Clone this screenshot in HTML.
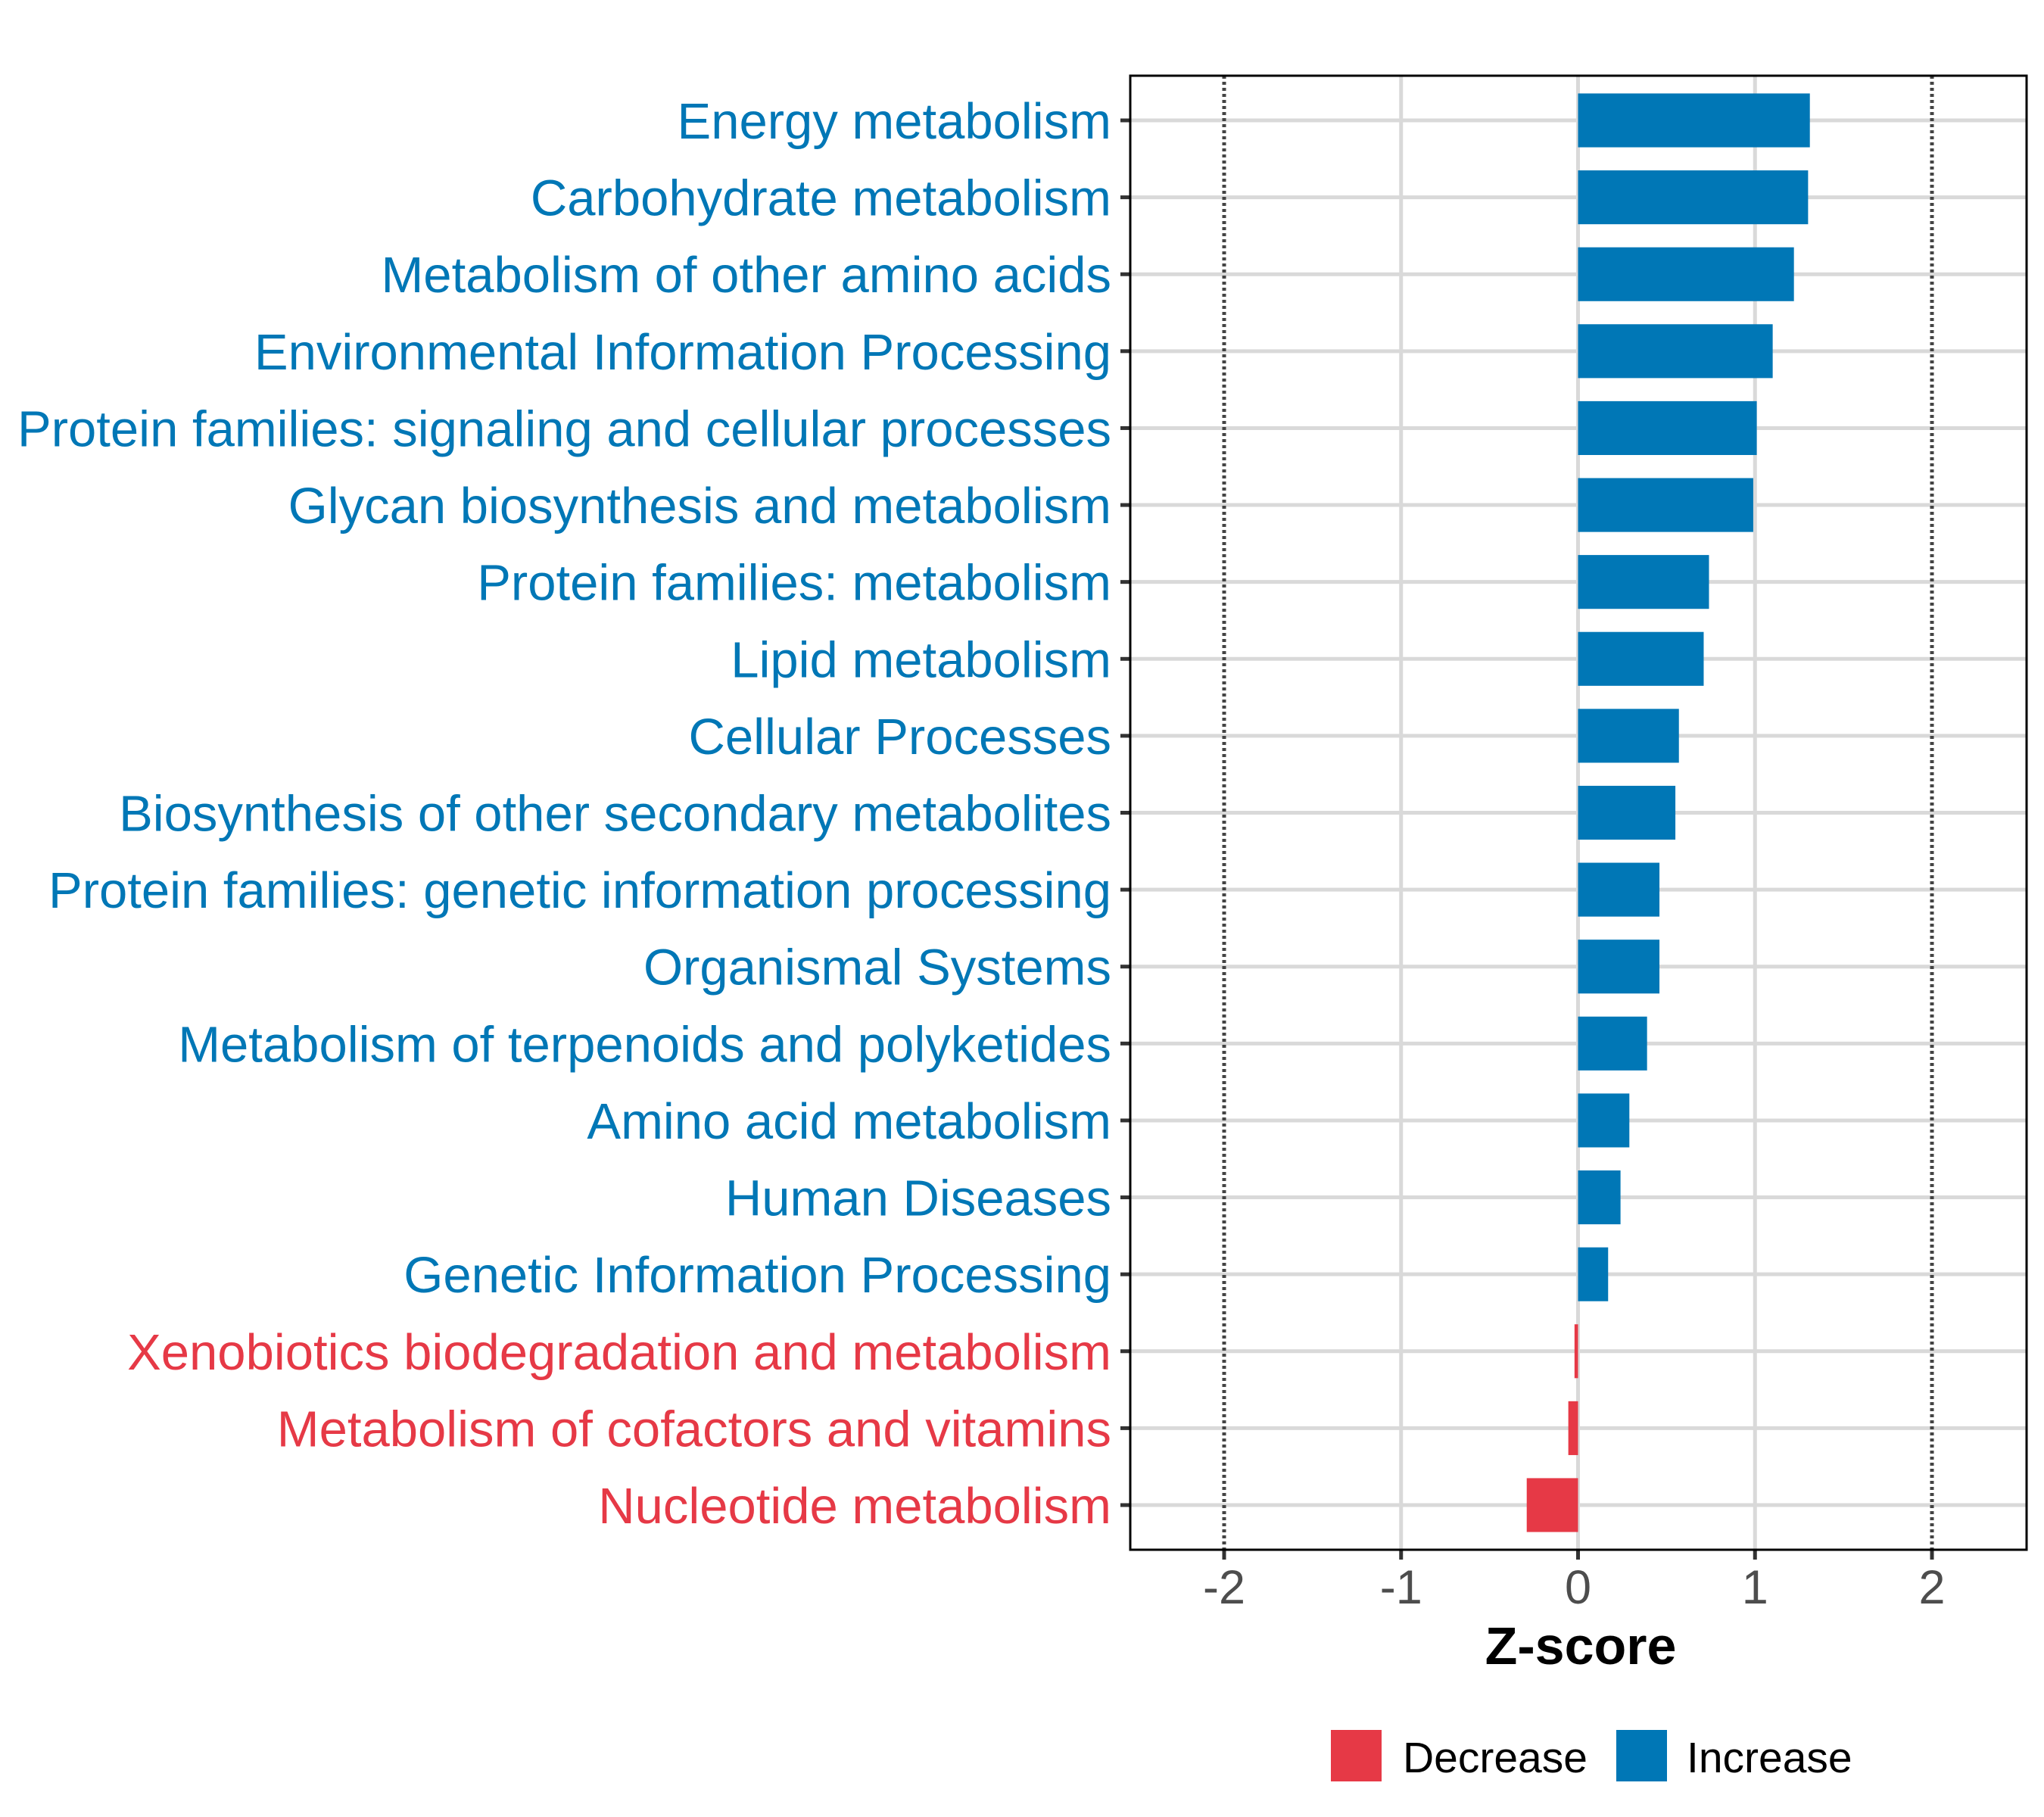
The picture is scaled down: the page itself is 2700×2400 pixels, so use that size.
<!DOCTYPE html>
<html><head><meta charset="utf-8"><style>
html,body{margin:0;padding:0;background:#fff;}
svg{display:block;font-family:"Liberation Sans",Arial,sans-serif;}
</style></head><body>
<svg id="chart" width="2700" height="2400" viewBox="0 0 2700 2400" xmlns="http://www.w3.org/2000/svg">
<rect x="0" y="0" width="2700" height="2400" fill="#fff"/>
<g id="grid"></g>
<g id="bars"></g>
<g id="ylabels"></g>
<g id="xaxis"></g>
<rect x="1493" y="100" width="1184" height="1947" fill="none" stroke="#000" stroke-width="3"/>
<text x="2088" y="2198" text-anchor="middle" font-size="70" font-weight="bold" fill="#000">Z-score</text>
<g>
<rect x="1758" y="2285" width="67" height="68" fill="#E63946"/>
<text x="1853" y="2341" font-size="57" fill="#000">Decrease</text>
<rect x="2135" y="2285" width="67" height="68" fill="#0077B6"/>
<text x="2228" y="2341" font-size="57" fill="#000">Increase</text>
</g>
</svg>
<script>
const categories = ["Energy metabolism","Carbohydrate metabolism","Metabolism of other amino acids","Environmental Information Processing","Protein families: signaling and cellular processes","Glycan biosynthesis and metabolism","Protein families: metabolism","Lipid metabolism","Cellular Processes","Biosynthesis of other secondary metabolites","Protein families: genetic information processing","Organismal Systems","Metabolism of terpenoids and polyketides","Amino acid metabolism","Human Diseases","Genetic Information Processing","Xenobiotics biodegradation and metabolism","Metabolism of cofactors and vitamins","Nucleotide metabolism"];
const zscores = [1.31,1.30,1.22,1.10,1.01,0.99,0.74,0.71,0.57,0.55,0.46,0.46,0.39,0.29,0.24,0.17,-0.02,-0.055,-0.29];
const xTicks = [-2,-1,0,1,2];
const xTickLabels = ["-2","-1","0","1","2"];

const NS="http://www.w3.org/2000/svg";
const X0=1493,X1=2677,Y0=100,Y1=2047;
const x2pos=2552,xm2pos=1617;
function xs(v){return xm2pos+(v+2)/4*(x2pos-xm2pos);}
const firstY=159,step=(1988-159)/(categories.length-1);
function ys(i){return firstY+i*step;}
const BLUE="#0077B6",RED="#E63946";
function mk(tag,attrs,parent){const e=document.createElementNS(NS,tag);for(const k in attrs)e.setAttribute(k,attrs[k]);parent.appendChild(e);return e;}
const grid=document.getElementById('grid'),bars=document.getElementById('bars'),yl=document.getElementById('ylabels'),xa=document.getElementById('xaxis');
categories.forEach((c,i)=>{
  const l=mk('line',{x1:X0,x2:X1,y1:ys(i),y2:ys(i),stroke:'#d9d9d9','stroke-width':5},grid);
  
  
});
xTicks.forEach((t,i)=>{
  const dotted=(t===-2||t===2);
  const l=mk('line',{x1:xs(t),x2:xs(t),y1:Y0,y2:Y1,stroke:dotted?'#444':'#d9d9d9','stroke-width':5},grid);
  if(dotted)l.setAttribute('stroke-dasharray','4 4');
  
  
  const tk=mk('line',{x1:xs(t),x2:xs(t),y1:Y1,y2:Y1+13,stroke:'#333','stroke-width':5},xa);
  
  
  const tx=mk('text',{x:xs(t),y:2118,'text-anchor':'middle','font-size':63,fill:'#4d4d4d'},xa);
  tx.textContent=xTickLabels[i];
  
  
});
const bh=step*0.7;
categories.forEach((c,i)=>{
  const v=zscores[i];
  const col=v>=0?BLUE:RED;
  const x=Math.min(xs(0),xs(v)),w=Math.abs(xs(v)-xs(0));
  const r=mk('rect',{x:x,y:ys(i)-bh/2,width:Math.max(w,1),height:bh,fill:col},bars);
  
  
  const tk=mk('line',{x1:X0-13,x2:X0,y1:ys(i),y2:ys(i),stroke:'#333','stroke-width':5},yl);
  
  
  const t=mk('text',{x:1468,y:ys(i)+24,'text-anchor':'end','font-size':67,fill:col},yl);
  t.textContent=c;
  
  
});
</script>
</body></html>
